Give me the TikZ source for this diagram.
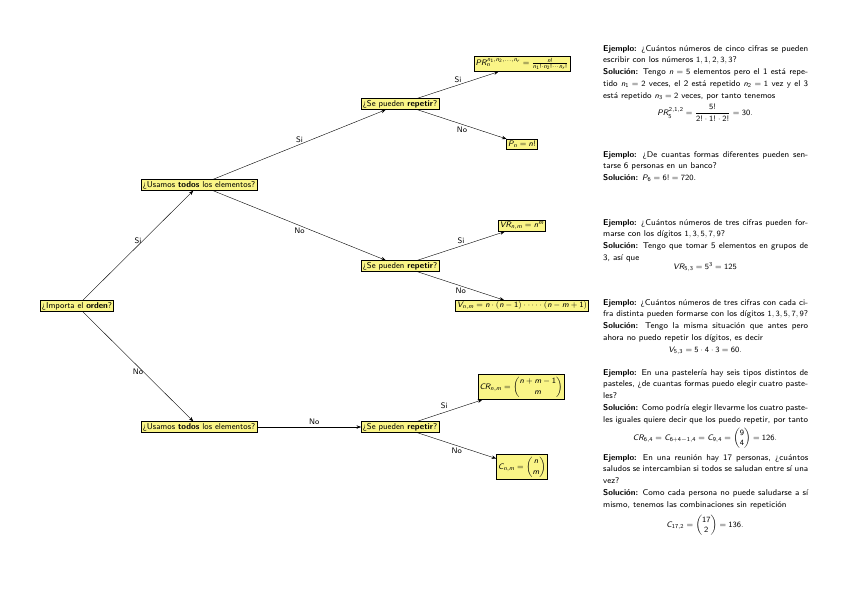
\documentclass[tikz,border=0pt]{standalone}
\usepackage{amsmath,amssymb}
\renewcommand{\familydefault}{\sfdefault}
\usetikzlibrary{arrows.meta}
\definecolor{figY}{RGB}{250,245,135}
% sans serif math
\DeclareSymbolFont{sfoperators}{OT1}{cmss}{m}{n}
\DeclareSymbolFont{sfletters}{OT1}{cmss}{m}{sl}
\newcommand\sfletter[1]{\DeclareMathSymbol{#1}{\mathalpha}{sfletters}{`#1}}
\newcommand\sfdigit[1]{\DeclareMathSymbol{#1}{\mathalpha}{sfoperators}{`#1}}
\makeatletter
\@tfor\ch:=abcdefghijklmnopqrstuvwxyzABCDEFGHIJKLMNOPQRSTUVWXYZ\do{\expandafter\sfletter\expandafter{\ch}}
\@tfor\ch:=0123456789\do{\expandafter\sfdigit\expandafter{\ch}}
\makeatother
\DeclareMathSymbol{!}{\mathclose}{sfoperators}{"21}
\DeclareMathSymbol{+}{\mathbin}{sfoperators}{"2B}
\DeclareMathSymbol{=}{\mathrel}{sfoperators}{"3D}
% binomial with tall parentheses
\newcommand\bnm[3][1.1]{\left(\renewcommand\arraystretch{#1}\begin{matrix}#2\\#3\end{matrix}\right)}
\hyphenation{re-pe-ti-do sen-tar-se for-mar-se ci-fra aho-ra pas-te-les saludos}

\begin{document}
\begin{tikzpicture}[x=1pt,y=-1pt,>={Stealth[length=1.6mm,width=1.2mm]},
  box/.style={draw,fill=figY,inner sep=1.6pt,font=\fontsize{8.5}{10}\selectfont},
  lab/.style={font=\footnotesize,inner sep=2pt},
  ej/.style={anchor=north west,text width=205pt,align=justify,inner sep=0pt,
    font=\fontsize{8.45}{11.8}\selectfont},
  eq/.style={font=\fontsize{8.4}{10}\selectfont,inner sep=0pt}]
\useasboundingbox (0,0) rectangle (848,600);
% decision nodes
\node[box] (orden) at (77,306) {¿Importa el \textbf{orden}?};
\node[box] (todosA) at (199,185) {¿Usamos \textbf{todos} los elementos?};
\node[box] (todosB) at (199,427) {¿Usamos \textbf{todos} los elementos?};
\node[box] (repA) at (400,104) {¿Se pueden \textbf{repetir}?};
\node[box] (repB) at (400,266) {¿Se pueden \textbf{repetir}?};
\node[box] (repC) at (400,427) {¿Se pueden \textbf{repetir}?};
% formulas at the leaves
\node[box] (PR) at (522,64) {$PR_n^{n_1,n_2,\ldots,n_r}=\frac{n!}{n_1!\cdot n_2!\cdots n_r!}$};
\node[box] (Pn) at (522,144) {$P_n=n!$};
\node[box] (VR) at (522,226) {$VR_{n,m}=n^m$};
\node[box] (V) at (522,306) {$V_{n,m}=n\cdot(n-1)\cdot\cdots\cdot(n-m+1)$};
\node[box] (CR) at (521,387) {$CR_{n,m}=\bnm{n+m-1}{m}$};
\node[box] (C) at (522,467) {$C_{n,m}=\bnm{n}{m}$};
% connectors
\draw[->] (orden) -- node[lab,above]{Si} (todosA);
\draw[->] (orden) -- node[lab,below]{No} (todosB);
\draw[->] (todosA) -- node[lab,above]{Si} (repA);
\draw[->] (todosA) -- node[lab,below]{No} (repB);
\draw[->] (todosB) -- node[lab,above,pos=0.55]{No} (repC);
\draw[->] (repA) -- node[lab,above]{Si} (PR);
\draw[->] (repA) -- node[lab,below]{No} (Pn);
\draw[->] (repB) -- node[lab,above]{Si} (VR);
\draw[->] (repB) -- node[lab,below]{No} (V);
\draw[->] (repC) -- node[lab,above left]{Si} (CR);
\draw[->] (repC) -- node[lab,below]{No} (C);
% examples
\node[ej] (ej1) at (603,45) {\textbf{Ejemplo:} ¿Cuántos números de cinco cifras se pueden escribir con los números $1,1,2,3,3$?\\
  \textbf{Solución:} Tengo $n=5$ elementos pero el 1 está repetido $n_1=2$ veces, el 2 está repetido $n_2=1$ vez y el 3 está repetido $n_3=2$ veces, por tanto tenemos};
\node[eq] (eq1) at (705,113) {$\displaystyle PR_5^{2,1,2}=\frac{5!}{2!\cdot 1!\cdot 2!}=30.$};
\node[ej] (ej2) at (603,151) {\textbf{Ejemplo:} ¿De cuantas formas diferentes pueden sentarse 6 personas en un banco?\\
  \textbf{Solución:} $P_6=6!=720$.};
\node[ej] (ej3) at (603,219) {\textbf{Ejemplo:} ¿Cuántos números de tres cifras pueden formarse con los dígitos $1,3,5,7,9$?\\
  \textbf{Solución:} Tengo que tomar 5 elementos en grupos de 3, así que};
\node[eq] (eq3) at (705,267) {$VR_{5,3}=5^3=125$};
\node[ej] (ej4) at (603,299) {\textbf{Ejemplo:} ¿Cuántos números de tres cifras con cada cifra distinta pueden formarse con los dígitos $1,3,5,7,9$?\\
  \textbf{Solución:} Tengo la misma situación que antes pero ahora no puedo repetir los dígitos, es decir};
\node[eq] (eq4) at (705,351) {$V_{5,3}=5\cdot 4\cdot 3=60.$};
\node[ej] (ej5) at (603,369) {\textbf{Ejemplo:} En una pastelería hay seis tipos distintos de pasteles, ¿de cuantas formas puedo elegir cuatro pasteles?\\
  \textbf{Solución:} Como podría elegir llevarme los cuatro pasteles iguales quiere decir que los puedo repetir, por tanto};
\node[eq] (eq5) at (705,438) {$CR_{6,4}=C_{6+4-1,4}=C_{9,4}=\bnm[1]{9}{4}=126.$};
\node[ej] (ej6) at (603,454) {\textbf{Ejemplo:} En una reunión hay 17 personas, ¿cuántos saludos se intercambian si todos se saludan entre sí una vez?\\
  \textbf{Solución:} Como cada persona no puede saludarse a sí mismo, tenemos las combinaciones sin repetición};
\node[eq] (eq6) at (705,525) {$C_{17,2}=\bnm[1]{17}{2}=136.$};
\end{tikzpicture}
\end{document}
